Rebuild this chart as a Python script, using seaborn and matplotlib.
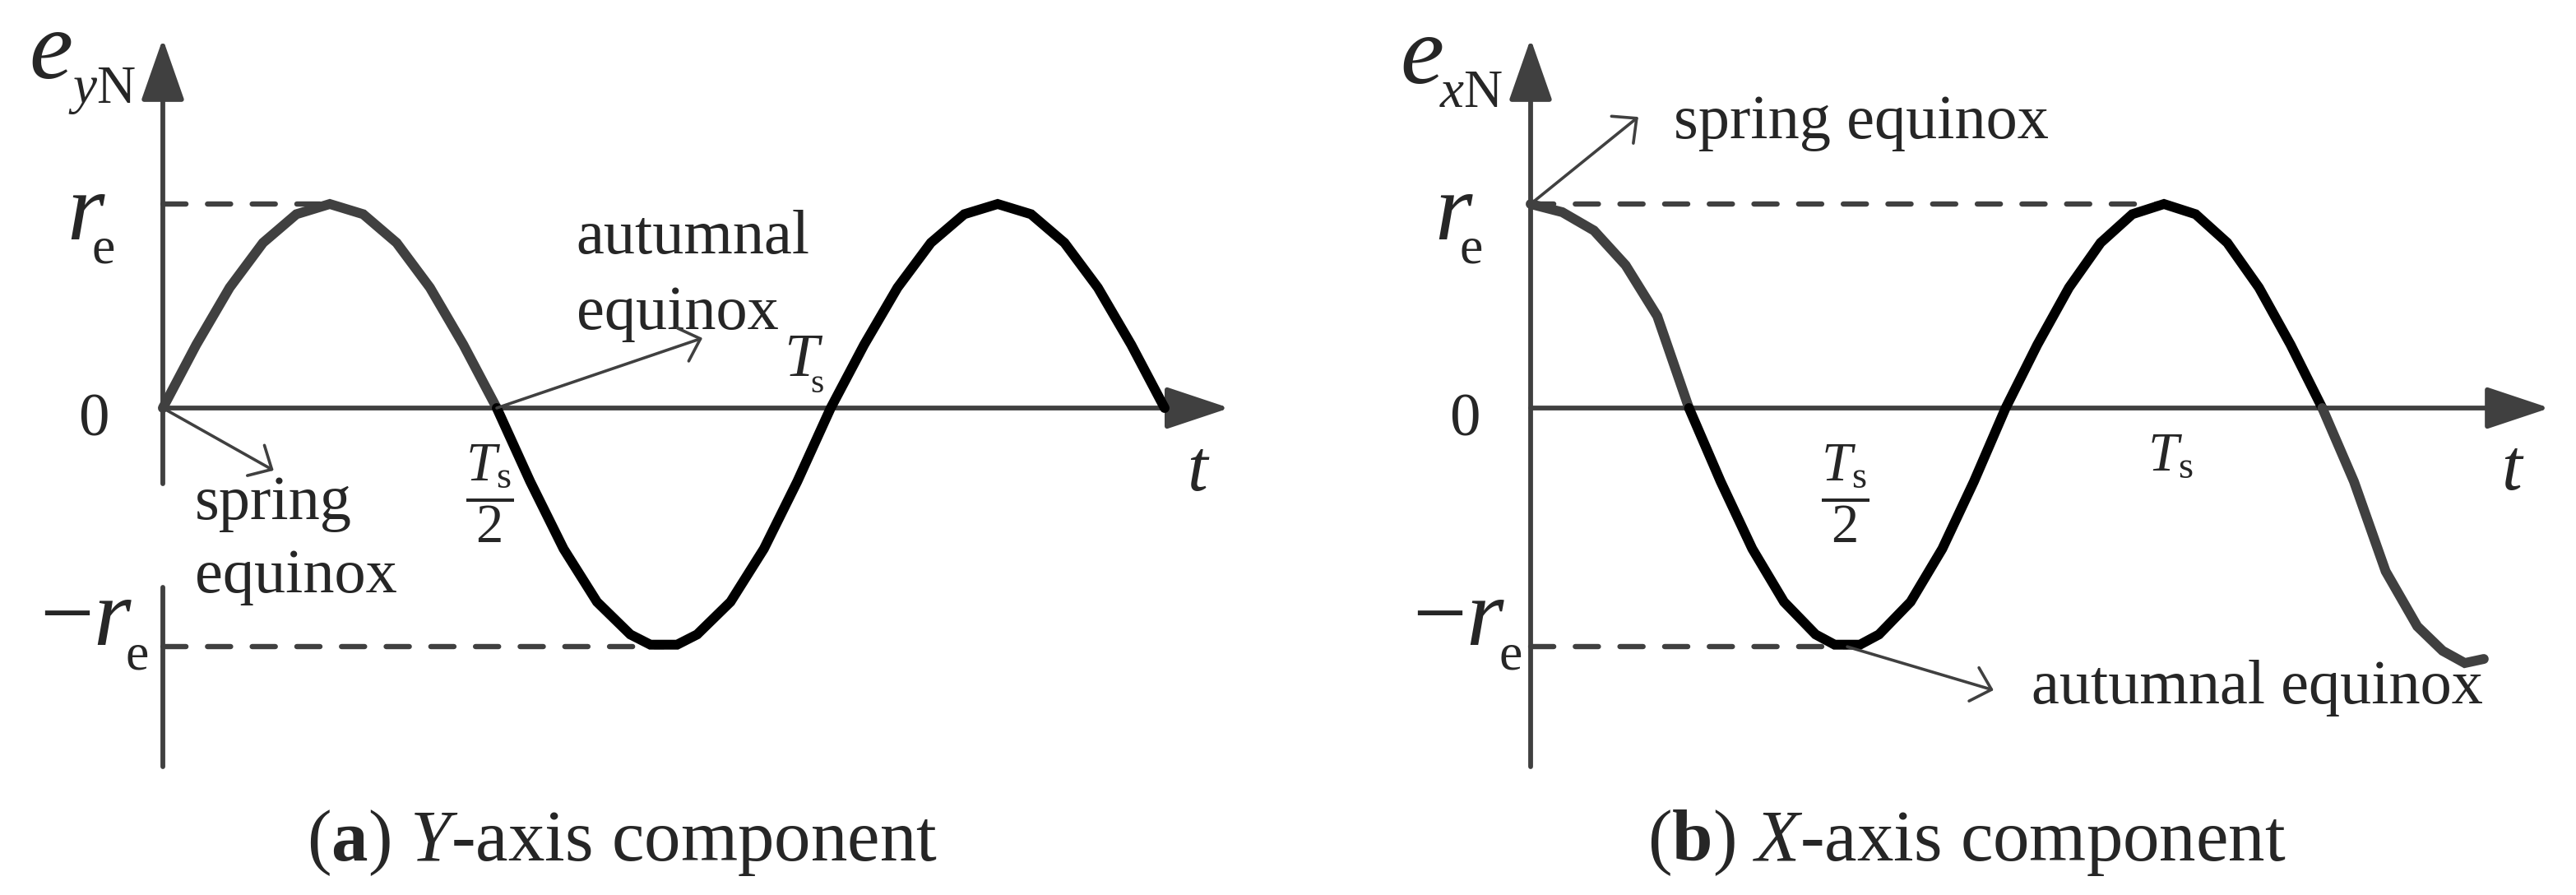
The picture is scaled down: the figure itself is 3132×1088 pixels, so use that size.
import matplotlib
matplotlib.use('Agg')
import matplotlib.pyplot as plt
from matplotlib.transforms import offset_copy
import pandas as pd
import seaborn as sns

# curve vertices: t in units of Ts, e in units of r_e
t_y = [0, .05, .10, .15, .20, .25, .30, .35, .40, .45, .50,
       .55, .60, .65, .70, .73, .77, .80, .85, .90, .95, 1.0,
       1.05, 1.10, 1.15, 1.20, 1.25, 1.30, 1.35, 1.40, 1.45, 1.50]
e_y = [0, .31, .59, .81, .95, 1.0, .95, .81, .59, .31, 0,
       -.36, -.69, -.95, -1.11, -1.16, -1.16, -1.11, -.95, -.69, -.36, 0,
       .31, .59, .81, .95, 1.0, .95, .81, .59, .31, 0]

t_x = [0, .05, .10, .15, .20, .25,
       .30, .35, .40, .45, .48, .52, .55, .60, .65, .70, .75,
       .80, .85, .90, .95, 1.0, 1.05, 1.10, 1.15, 1.20, 1.25,
       1.30, 1.35, 1.40, 1.44, 1.475, 1.505]
e_x = [1.0, .96, .87, .70, .45, 0,
       -.36, -.69, -.95, -1.11, -1.16, -1.16, -1.11, -.95, -.69, -.36, 0,
       .31, .59, .81, .95, 1.0, .95, .81, .59, .31, 0,
       -.36, -.80, -1.07, -1.19, -1.25, -1.23]

# grey / black stretches of each curve
parts_y = [(0.0, 0.5, 'grey'), (0.5, 1.5, 'black')]
parts_x = [(0.0, 0.25, 'grey'), (0.25, 1.25, 'black'), (1.25, 1.51, 'grey2')]

r_e = 1.0
neg_r_e = -1.17
peak_y, trough_y = 0.25, 0.75
peak_x, trough_x = 1.0, 0.5

GREY = '#404040'
pal = {'grey': GREY, 'grey2': GREY, 'black': 'black'}

sns.set_theme(style='white')
plt.rcParams['font.family'] = ['Liberation Serif', 'DejaVu Serif']
plt.rcParams['mathtext.fontset'] = 'custom'
plt.rcParams['mathtext.rm'] = 'Liberation Serif'
plt.rcParams['mathtext.it'] = 'Liberation Serif:italic'
plt.rcParams['mathtext.bf'] = 'Liberation Serif:bold'

fig = plt.figure(figsize=(15.66, 5.44), dpi=200)
ax_a = fig.add_axes([0, 0, 0.5, 1])
ax_b = fig.add_axes([0.5, 0, 0.5, 1])
ax_a.set_xlim(-0.2438, 1.6847)
ax_b.set_xlim(-0.3831, 1.6506)
for ax in (ax_a, ax_b):
    ax.set_ylim(-2.387, 2.0)
    ax.axis('off')

def pieces(t, e, parts):
    rows = []
    for lo, hi, name in parts:
        for ti, ei in zip(t, e):
            if lo <= ti <= hi:
                rows.append((ti, ei, name))
    return pd.DataFrame(rows, columns=['t', 'e', 'part'])

def axis_arrow(ax, start, tip, hl, hw):
    ax.annotate('', xy=tip, xytext=start,
                arrowprops=dict(arrowstyle='-|>,head_length=%g,head_width=%g' % (hl, hw),
                                mutation_scale=20, lw=2.1, color=GREY,
                                shrinkA=0, shrinkB=0), zorder=2)

def thin_arrow(ax, start, tip):
    ax.annotate('', xy=tip, xytext=start,
                arrowprops=dict(arrowstyle='->,head_length=0.4,head_width=0.38',
                                mutation_scale=20, lw=1.3, color=GREY,
                                shrinkA=0, shrinkB=0), zorder=5)

def sub_text(ax, x, y, main, sub, size, subsize, dx, dy, style='italic'):
    ax.text(x, y, main, fontsize=size, style=style, ha='left', va='baseline')
    tr = offset_copy(ax.transData, fig=fig, x=dx * 0.36, y=-dy * 0.36, units='points')
    ax.text(x, y, sub, transform=tr, fontsize=subsize, ha='left', va='baseline')

# ---------- (a) Y-axis component ----------
ax = ax_a
ax.plot([0, peak_y], [r_e, r_e], color=GREY, lw=2.3, dashes=(4.4, 4.1),
        dash_capstyle='round', zorder=1)
ax.plot([0, trough_y], [neg_r_e, neg_r_e], color=GREY, lw=2.3, dashes=(4.4, 4.1),
        dash_capstyle='round', zorder=1)
ax.plot([0, 0], [-1.758, -0.879], color=GREY, lw=2.1, zorder=2)
axis_arrow(ax, (0, -0.371), (0, 1.81), 1.17, 0.41)
axis_arrow(ax, (0, 0), (1.597, 0), 1.2, 0.40)
sns.lineplot(data=pieces(t_y, e_y, parts_y), x='t', y='e', hue='part', palette=pal,
             estimator=None, sort=False, legend=False, linewidth=4.3,
             solid_capstyle='round', solid_joinstyle='miter', ax=ax, zorder=4)
ax.set_xlim(-0.2438, 1.6847); ax.set_ylim(-2.387, 2.0); ax.axis('off')
thin_arrow(ax, (0, 0), (0.166, -0.306))
thin_arrow(ax, (0.5, 0), (0.808, 0.343))

sub_text(ax, -0.2007, 1.617, 'e', r'$y$N', 43, 23.5, 48, 30)
sub_text(ax, -0.1441, 0.827, 'r', 'e', 42, 23, 31, 29)
sub_text(ax, -0.1847, -1.161, r'$-r$', 'e', 42, 23, 105, 30, style='normal')
ax.text(-0.1034, -0.137, '0', fontsize=27, ha='center', va='baseline')
ax.text(0.048, -0.544, 'spring', fontsize=27.5, ha='left', va='baseline')
ax.text(0.048, -0.903, 'equinox', fontsize=27.5, ha='left', va='baseline')
ax.text(0.619, 0.758, 'autumnal', fontsize=27.5, ha='left', va='baseline')
ax.text(0.619, 0.387, 'equinox', fontsize=27.5, ha='left', va='baseline')
sub_text(ax, 0.930, 0.157, 'T', 's', 27, 15, 32, 20)
ax.text(0.489, -0.419, r'$\dfrac{T_\mathrm{s}}{2}$', fontsize=24, ha='center', va='center')
ax.text(1.533, -0.403, 't', fontsize=32, style='italic', ha='left', va='baseline')
ax.text(0.687, -2.218, r'($\mathbf{a}$) $Y$-axis component', fontsize=32,
        ha='center', va='baseline')

# ---------- (b) X-axis component ----------
ax = ax_b
ax.plot([0, peak_x], [r_e, r_e], color=GREY, lw=2.3, dashes=(4.4, 4.1),
        dash_capstyle='round', zorder=1)
ax.plot([0, trough_x], [neg_r_e, neg_r_e], color=GREY, lw=2.3, dashes=(4.4, 4.1),
        dash_capstyle='round', zorder=1)
axis_arrow(ax, (0, -1.758), (0, 1.81), 1.17, 0.41)
axis_arrow(ax, (0, 0), (1.609, 0), 1.2, 0.40)
sns.lineplot(data=pieces(t_x, e_x, parts_x), x='t', y='e', hue='part', palette=pal,
             estimator=None, sort=False, legend=False, linewidth=4.3,
             solid_capstyle='round', solid_joinstyle='miter', ax=ax, zorder=4)
ax.set_xlim(-0.3831, 1.6506); ax.set_ylim(-2.387, 2.0); ax.axis('off')
thin_arrow(ax, (0, r_e), (0.170, 1.427))
thin_arrow(ax, (trough_x, neg_r_e), (0.731, -1.383))

sub_text(ax, -0.2065, 1.593, 'e', r'$x$N', 43, 23.5, 48, 29)
sub_text(ax, -0.152, 0.827, 'r', 'e', 42, 23, 31, 29)
sub_text(ax, -0.187, -1.161, r'$-r$', 'e', 42, 23, 105, 30, style='normal')
ax.text(-0.1039, -0.137, '0', fontsize=27, ha='center', va='baseline')
ax.text(0.226, 1.323, 'spring equinox', fontsize=27.5, ha='left', va='baseline')
ax.text(0.496, -0.419, r'$\dfrac{T_\mathrm{s}}{2}$', fontsize=24, ha='center', va='center')
ax.text(0.974, -0.306, r'$T_\mathrm{s}$', fontsize=24, ha='left', va='baseline')
ax.text(1.532, -0.40, 't', fontsize=32, style='italic', ha='left', va='baseline')
ax.text(0.791, -1.448, 'autumnal equinox', fontsize=27.5, ha='left', va='baseline')
ax.text(0.688, -2.218, r'($\mathbf{b}$) $X$-axis component', fontsize=32,
        ha='center', va='baseline')

fig.savefig('out.png', dpi=200)
